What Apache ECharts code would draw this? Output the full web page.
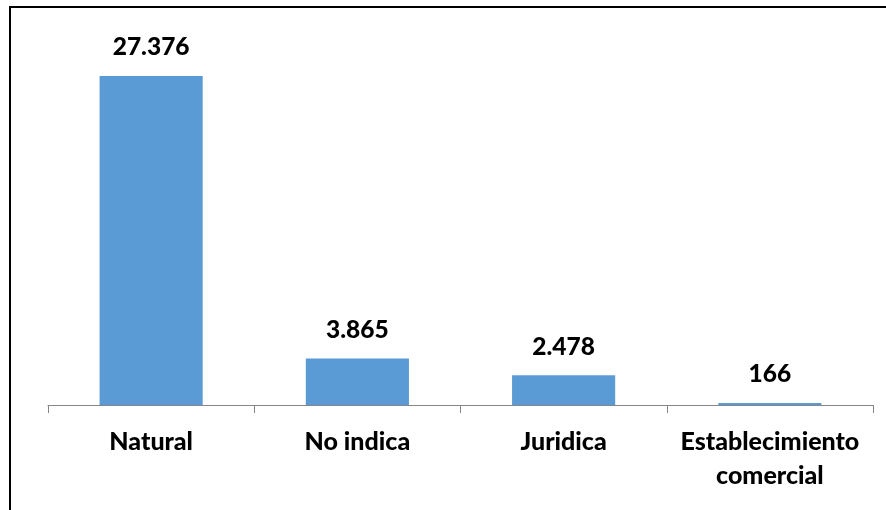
<!DOCTYPE html>
<html>
<head>
<meta charset="utf-8">
<script src="https://cdn.jsdelivr.net/npm/echarts@6/dist/echarts.min.js"></script>
<style>
html,body{margin:0;padding:0;background:#fff;}
#chart{width:886px;height:510px;}
</style>
</head>
<body>
<div id="chart"></div>
<script>
const categories = ['Natural', 'No indica', 'Juridica', 'Establecimiento\ncomercial'];
const values = [27376, 3865, 2478, 166];
const valueLabels = ['27.376', '3.865', '2.478', '166'];

const chart = echarts.init(document.getElementById('chart'));
chart.setOption({
  backgroundColor: '#ffffff',
  animation: false,
  graphic: [{
    type: 'polyline',
    shape: { points: [[10, 620], [10, 7], [900, 7]] },
    style: { stroke: '#000000', lineWidth: 2, fill: null },
    silent: true
  }],
  grid: { left: 48, right: 13, top: 44.5, bottom: 105, containLabel: false },
  xAxis: {
    type: 'category',
    data: categories,
    axisLine: { lineStyle: { color: '#868686', width: 1 } },
    axisTick: { show: true, length: 8, lineStyle: { color: '#868686' } },
    axisLabel: {
      color: '#000000',
      fontFamily: 'Lato',
      fontWeight: 900,
      fontSize: 25,
      lineHeight: 34,
      margin: 20,
      interval: 0
    }
  },
  yAxis: {
    type: 'value',
    min: 0,
    max: 30000,
    show: false,
    splitLine: { show: false }
  },
  series: [{
    type: 'bar',
    data: values,
    barWidth: '50%',
    itemStyle: { color: '#5B9BD5' },
    label: {
      show: true,
      position: 'top',
      distance: 16,
      color: '#000000',
      fontFamily: 'Lato',
      fontWeight: 900,
      fontSize: 24.5,
      formatter: p => valueLabels[p.dataIndex]
    }
  }]
});
</script>
</body>
</html>
